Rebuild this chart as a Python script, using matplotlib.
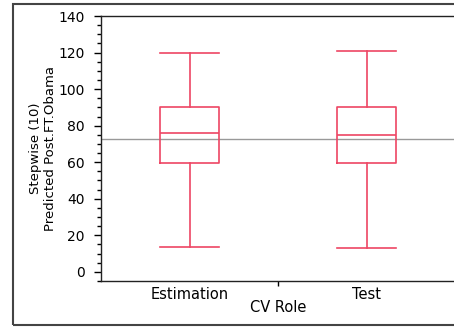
import matplotlib
matplotlib.use("Agg")
import matplotlib.pyplot as plt
from matplotlib.patches import Rectangle
from matplotlib.ticker import MultipleLocator, FixedLocator

categories = ["Estimation", "Test"]
whisker_low = [13.5, 12.8]
q1 = [59.7, 59.4]
median = [75.8, 74.7]
q3 = [90.4, 90.1]
whisker_high = [119.5, 120.9]
ref_line = 72.9
y_label = "Stepwise (10)\nPredicted Post.FT.Obama"
x_label = "CV Role"

box_color = "#EE4664"

fig = plt.figure(figsize=(4.54, 3.27), dpi=100)
W, H = 454, 327
ax = fig.add_axes([101 / W, 1 - 281 / H, 354 / W, 265 / H])

stats = []
for i, c in enumerate(categories):
    stats.append(dict(label=c, whislo=whisker_low[i], q1=q1[i], med=median[i],
                      q3=q3[i], whishi=whisker_high[i], fliers=[]))
ax.bxp(stats, positions=range(len(categories)), widths=0.333, showfliers=False,
       boxprops=dict(color=box_color, linewidth=1.2),
       whiskerprops=dict(color=box_color, linewidth=1.2),
       capprops=dict(color=box_color, linewidth=1.2),
       medianprops=dict(color=box_color, linewidth=1.2),
       capwidths=0.333)
ax.axhline(ref_line, color="#999999", linewidth=1.0, zorder=0)

ax.set_xlim(-0.5, 1.5)
ax.set_ylim(-5, 140)
ax.yaxis.set_major_locator(MultipleLocator(20))
ax.yaxis.set_minor_locator(MultipleLocator(5))
ax.tick_params(axis="y", which="major", length=4.7, width=1, labelsize=10, pad=7)
ax.tick_params(axis="y", which="minor", length=3.2, width=1)

ax.set_xticks(range(len(categories)))
ax.set_xticklabels(categories)
ax.xaxis.set_minor_locator(FixedLocator([0.5]))
ax.tick_params(axis="x", which="major", length=0, labelsize=10.5, pad=4)
ax.tick_params(axis="x", which="minor", length=3.5, width=1)

ax.set_xlabel(x_label, fontsize=10.5, labelpad=-1)
ax.set_ylabel(y_label, fontsize=9.5)
ax.yaxis.label.set_va("center")
ax.yaxis.set_label_coords(-0.165, 0.5)

for s in ["left", "bottom", "top"]:
    ax.spines[s].set_linewidth(1.0)
    ax.spines[s].set_color("#222222")
ax.spines["right"].set_visible(False)

frame = Rectangle((13 / W, 1 - 325 / H), 1.0, 321 / H, transform=fig.transFigure,
                  fill=False, edgecolor="#444444", linewidth=1.5, clip_on=False)
fig.patches.append(frame)

fig.savefig("out.png", dpi=100)
